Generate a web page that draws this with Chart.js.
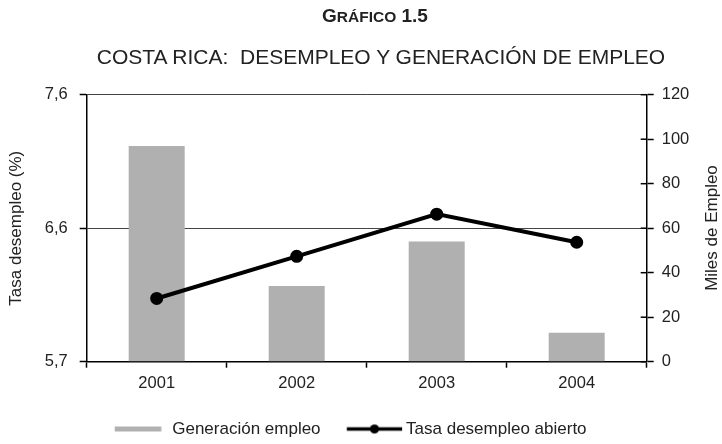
<!DOCTYPE html>
<html>
<head>
<meta charset="utf-8">
<script src="https://cdn.jsdelivr.net/npm/chart.js@4.4.1/dist/chart.umd.min.js"></script>
<style>
  html, body { margin: 0; padding: 0; background: #fff; }
  #wrap { position: relative; width: 722px; height: 444px; overflow: hidden; font-family: 'Liberation Sans', Arial, sans-serif; color: #222; }
  #c { position: absolute; left: 0; top: 0; }
  .t { position: absolute; left: 0; width: 722px; box-sizing: border-box; text-align: center; white-space: pre; }
  #t1 { top: 6px; line-height: 19px; font-size: 19px; font-weight: bold; padding-left: 28px; }
  #t1 .sc { font-size: 15.5px; }
  #t2 { top: 46px; line-height: 21px; font-size: 21px; padding-left: 40px; }
  #ry { position: absolute; width: 220px; height: 18px; line-height: 18px; font-size: 17px; text-align: center; left: 602px; top: 219px; transform: rotate(-90deg); white-space: nowrap; color: #222; font-family: 'Liberation Sans', Arial, sans-serif; }
</style>
</head>
<body>
<div id="wrap">
  <canvas id="c" width="722" height="444"></canvas>
  <div class="t" id="t1">G<span class="sc">RÁFICO</span> 1.5</div>
  <div class="t" id="t2">COSTA RICA:  DESEMPLEO Y GENERACIÓN DE EMPLEO</div>
  <div id="ry">Miles de Empleo</div>
</div>
<script>
// ---- data ----
const years = ['2001', '2002', '2003', '2004'];
const generacionEmpleo = [97, 34, 54, 13];          // miles de empleos (eje derecho)
const tasaDesempleo = [6.1, 6.4, 6.7, 6.5];         // % (eje izquierdo)
const leftTickValues = [5.65, 6.6, 7.55];
const leftTickLabels = ['5,7', '6,6', '7,6'];
const rightTickValues = [0, 20, 40, 60, 80, 100, 120];
const seriesNames = ['Generación empleo', 'Tasa desempleo abierto'];

const FONT = "'Liberation Sans', Arial, sans-serif";
const TXT = '#222';
const BAR = '#b0b0b0';
Chart.defaults.font.family = FONT;
Chart.defaults.color = TXT;

// legend symbols
const BOXW = 67;
function makeImg(w, h, draw) {
  const c = document.createElement('canvas');
  c.width = w; c.height = h;
  draw(c.getContext('2d'));
  return c;
}
const barSymbol = makeImg(BOXW, 17, g => {
  g.fillStyle = BAR;
  g.fillRect(18, 6, 46.6, 5);
});
const lineSymbol = makeImg(80, 17, g => {
  g.strokeStyle = '#000';
  g.lineWidth = 3.5;
  g.beginPath(); g.moveTo(22.7, 8.5); g.lineTo(78, 8.5); g.stroke();
  g.fillStyle = '#000';
  g.beginPath(); g.arc(50.4, 8.5, 4.6, 0, Math.PI * 2); g.fill();
});

const innerTicks = {
  id: 'innerTicks',
  afterDatasetsDraw(chart) {
    const s = chart.scales.y2;
    const ctx = chart.ctx;
    ctx.save();
    ctx.strokeStyle = '#000';
    ctx.lineWidth = 1.5;
    s.ticks.forEach(t => {
      const y = s.getPixelForValue(t.value);
      ctx.beginPath();
      ctx.moveTo(s.left - 6, y);
      ctx.lineTo(s.left, y);
      ctx.stroke();
    });
    ctx.restore();
  }
};

new Chart(document.getElementById('c'), {
  data: {
    labels: years,
    datasets: [
      {
        type: 'line',
        label: seriesNames[1],
        data: tasaDesempleo,
        yAxisID: 'y',
        borderColor: '#000',
        backgroundColor: '#000',
        borderWidth: 4,
        pointRadius: 6.5,
        pointBackgroundColor: '#000',
        pointBorderColor: '#000',
        pointBorderWidth: 0,
        tension: 0,
        order: 0
      },
      {
        type: 'bar',
        label: seriesNames[0],
        data: generacionEmpleo,
        yAxisID: 'y2',
        backgroundColor: BAR,
        borderWidth: 0,
        categoryPercentage: 1,
        barPercentage: 0.4,
        order: 1
      }
    ]
  },
  options: {
    responsive: false,
    animation: false,
    devicePixelRatio: 1,
    layout: { padding: { left: 0, right: 0, top: 94.7, bottom: -3.5 } },
    plugins: {
      title: { display: false },
      tooltip: { enabled: false },
      legend: {
        position: 'bottom',
        align: 'start',
        fullSize: false,
        labels: {
          usePointStyle: true,
          pointStyleWidth: BOXW,
          padding: 10,
          color: TXT,
          font: { size: 17, family: FONT },
          generateLabels: () => [
            { text: seriesNames[0], pointStyle: barSymbol, fillStyle: BAR, strokeStyle: BAR, lineWidth: 0, hidden: false, datasetIndex: 1, fontColor: TXT },
            { text: seriesNames[1], pointStyle: lineSymbol, fillStyle: '#000', strokeStyle: '#000', lineWidth: 0, hidden: false, datasetIndex: 0, fontColor: TXT }
          ]
        }
      }
    },
    scales: {
      x: {
        type: 'category',
        offset: true,
        afterFit: s => { s.height = 48.8; },
        grid: { display: true, drawOnChartArea: false, drawTicks: true, tickLength: 6, tickColor: '#000', tickWidth: 1.5, offset: true },
        border: { display: true, color: '#000', width: 1.5 },
        ticks: { color: TXT, font: { size: 16.5 }, padding: 6, maxRotation: 0 }
      },
      y: {
        type: 'linear',
        position: 'left',
        min: leftTickValues[0],
        max: leftTickValues[leftTickValues.length - 1],
        afterBuildTicks: s => { s.ticks = leftTickValues.map(v => ({ value: v })); },
        afterFit: s => { s.width = 86.7; },
        grid: { color: '#444', lineWidth: 1, drawTicks: true, tickLength: 7, tickColor: '#000', tickWidth: 1.5 },
        border: { display: true, color: '#000', width: 1.5 },
        ticks: { color: TXT, font: { size: 16.5 }, padding: 12, callback: (v, i) => leftTickLabels[i] },
        title: { display: true, text: 'Tasa desempleo (%)', color: TXT, font: { size: 17 }, padding: { top: 6, bottom: 0 } }
      },
      y2: {
        type: 'linear',
        position: 'right',
        min: rightTickValues[0],
        max: rightTickValues[rightTickValues.length - 1],
        afterBuildTicks: s => { s.ticks = rightTickValues.map(v => ({ value: v })); },
        afterFit: s => { s.width = 75.3; },
        grid: { drawOnChartArea: false, drawTicks: true, tickLength: 7, tickColor: '#000', tickWidth: 1.5 },
        border: { display: true, color: '#000', width: 1.5 },
        ticks: { color: TXT, font: { size: 16.5 }, padding: 8, callback: v => String(v) },
        title: { display: false }
      }
    }
  },
  plugins: [innerTicks]
});
</script>
</body>
</html>
